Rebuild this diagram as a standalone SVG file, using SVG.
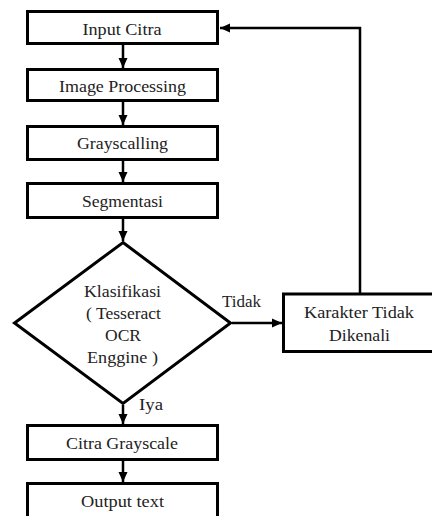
<svg xmlns="http://www.w3.org/2000/svg" width="432" height="516" viewBox="0 0 432 516">
<style>
.box{fill:#fff;stroke:#000;stroke-width:3}
.ln{fill:none;stroke:#000;stroke-width:2.5}
text{font-family:"Liberation Serif","Times New Roman",serif;font-size:16px;fill:#222}
.c{text-anchor:middle}
</style>
<defs>
<marker id="ah" markerUnits="userSpaceOnUse" markerWidth="10" markerHeight="10" viewBox="0 0 10 10" refX="10" refY="5" orient="auto">
<path d="M0,0.5 L10,5 L0,9.5 Z" fill="#000"/>
</marker>
</defs>
<rect width="432" height="516" fill="#fff"/>
<g id="connectors">
<line class="ln" x1="123" y1="45" x2="123" y2="68" marker-end="url(#ah)"/>
<line class="ln" x1="123" y1="102" x2="123" y2="125" marker-end="url(#ah)"/>
<line class="ln" x1="123" y1="161" x2="123" y2="182" marker-end="url(#ah)"/>
<line class="ln" x1="123" y1="219" x2="123" y2="241" marker-end="url(#ah)"/>
<line class="ln" x1="123" y1="405" x2="123" y2="424" marker-end="url(#ah)"/>
<line class="ln" x1="123" y1="461" x2="123" y2="482" marker-end="url(#ah)"/>
<line class="ln" x1="232" y1="323" x2="282" y2="323" marker-end="url(#ah)"/>
<polyline class="ln" points="360,293 360,28 220,28" marker-end="url(#ah)"/>
<text x="222" y="306.5" textLength="39" lengthAdjust="spacingAndGlyphs">Tidak</text>
<text x="139" y="410" textLength="24" lengthAdjust="spacingAndGlyphs">Iya</text>
</g>
<g id="input-citra">
<rect class="box" x="27.5" y="11.5" width="190" height="32"/>
<text class="c" x="122" y="35" textLength="79" lengthAdjust="spacingAndGlyphs">Input Citra</text>
</g>
<g id="image-processing">
<rect class="box" x="27.5" y="69.5" width="190" height="31"/>
<text class="c" x="122.5" y="92" textLength="127" lengthAdjust="spacingAndGlyphs">Image Processing</text>
</g>
<g id="grayscalling">
<rect class="box" x="27.5" y="126.5" width="190" height="33"/>
<text class="c" x="122.5" y="149" textLength="91" lengthAdjust="spacingAndGlyphs">Grayscalling</text>
</g>
<g id="segmentasi">
<rect class="box" x="27.5" y="183.5" width="190" height="34"/>
<text class="c" x="122.5" y="206.5" textLength="81" lengthAdjust="spacingAndGlyphs">Segmentasi</text>
</g>
<g id="klasifikasi">
<polygon class="box" points="123,242.5 230.5,323 123,403.5 14.5,323"/>
<text class="c" x="122.5" y="296.5" textLength="77" lengthAdjust="spacingAndGlyphs">Klasifikasi</text>
<text class="c" x="123.5" y="319" textLength="75" lengthAdjust="spacingAndGlyphs">( Tesseract</text>
<text class="c" x="123" y="340.5" textLength="36" lengthAdjust="spacingAndGlyphs">OCR</text>
<text class="c" x="122.5" y="362.5" textLength="71" lengthAdjust="spacingAndGlyphs">Enggine )</text>
</g>
<g id="karakter-tidak-dikenali">
<rect class="box" x="283.5" y="294" width="154" height="57.5"/>
<text class="c" x="359" y="318" textLength="110" lengthAdjust="spacingAndGlyphs">Karakter Tidak</text>
<text class="c" x="359.5" y="341" textLength="61" lengthAdjust="spacingAndGlyphs">Dikenali</text>
</g>
<g id="citra-grayscale">
<rect class="box" x="27.5" y="425.5" width="190" height="34"/>
<text class="c" x="122" y="449" textLength="112" lengthAdjust="spacingAndGlyphs">Citra Grayscale</text>
</g>
<g id="output-text">
<rect class="box" x="27.5" y="483.5" width="190" height="50"/>
<text class="c" x="122.5" y="506.5" textLength="83" lengthAdjust="spacingAndGlyphs">Output text</text>
</g>
</svg>
